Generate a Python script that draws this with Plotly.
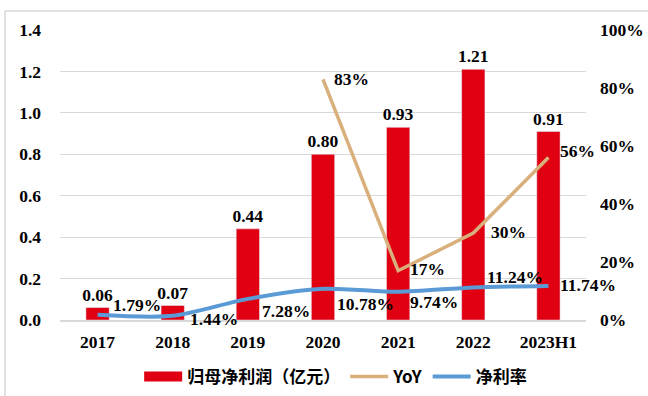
import plotly.graph_objects as go

years = ["2017", "2018", "2019", "2020", "2021", "2022", "2023H1"]
profit = [0.06, 0.07, 0.44, 0.80, 0.93, 1.21, 0.91]
profit_labels = ["0.06", "0.07", "0.44", "0.80", "0.93", "1.21", "0.91"]
yoy_years = ["2020", "2021", "2022", "2023H1"]
yoy = [0.83, 0.17, 0.30, 0.56]
yoy_labels = ["83%", "17%", "30%", "56%"]
margin = [0.0179, 0.0144, 0.0728, 0.1078, 0.0974, 0.1124, 0.1174]
margin_labels = ["1.79%", "1.44%", "7.28%", "10.78%", "9.74%", "11.24%", "11.74%"]
left_ticks = [0, 0.2, 0.4, 0.6, 0.8, 1.0, 1.2, 1.4]
right_ticks = [0, 0.2, 0.4, 0.6, 0.8, 1.0]

RED = "#E00012"
TAN = "#D9B07C"
BLUE = "#5B9BD5"
SERIF = "Liberation Serif, Times New Roman, serif"
CJK = "Noto Sans CJK SC"
FS = 17.5

fig = go.Figure()

fig.add_trace(go.Bar(
    x=years, y=profit, marker_color=RED, width=0.31,
    text=profit_labels, textposition="outside", cliponaxis=False, constraintext="none",
    textfont=dict(family=SERIF, size=FS, color="black"),
    showlegend=False, legendgroup="p", yaxis="y",
))
# legend entry for bars (wide rectangle icon)
fig.add_trace(go.Scatter(
    x=[years[0]], y=[None], mode="lines", line=dict(color=RED, width=12),
    name="归母净利润（亿元）", legendgroup="p", yaxis="y",
))
fig.add_trace(go.Scatter(
    x=yoy_years, y=yoy, mode="lines", line=dict(color=TAN, width=3.5),
    name="YoY", yaxis="y2",
))
fig.add_trace(go.Scatter(
    x=years, y=margin, mode="lines", line=dict(color=BLUE, width=4, shape="spline", smoothing=0.8),
    name="净利率", yaxis="y2",
))

# category serial numbers for annotation positions
margin_off = [(13, 10), (15, -3), (12, -12), (12, -15), (10, -10), (12, 10), (10, 1)]
for x, v, t, (dx, dy) in zip(years, margin, margin_labels, margin_off):
    fig.add_annotation(x=years.index(x), y=v, xref="x", yref="y2", text=t, showarrow=False,
                       xanchor="left", yanchor="middle", xshift=dx, yshift=dy,
                       font=dict(family=SERIF, size=FS, color="black"))
yoy_off = [(9, 0), (10, 2), (16, 1), (10, 7)]
for x, v, t, (dx, dy) in zip(yoy_years, yoy, yoy_labels, yoy_off):
    fig.add_annotation(x=years.index(x), y=v, xref="x", yref="y2", text=t, showarrow=False,
                       xanchor="left", yanchor="middle", xshift=dx, yshift=dy,
                       font=dict(family=SERIF, size=FS, color="black"))

fig.add_shape(type="line", xref="paper", yref="paper",
              x0=(5 - 60) / 526, x1=(648 - 60) / 526, y0=(396 - 11 - 76) / 290, y1=(396 - 11 - 76) / 290,
              line=dict(color="#D9D9D9", width=1.5))
fig.add_shape(type="line", xref="paper", yref="paper",
              x0=(5 - 60) / 526, x1=(5 - 60) / 526, y0=(396 - 11 - 76) / 290, y1=-76 / 290,
              line=dict(color="#D9D9D9", width=1.5))

fig.update_layout(
    width=648, height=396,
    margin=dict(l=60, r=62, t=30, b=76, autoexpand=False),
    paper_bgcolor="white", plot_bgcolor="white",
    bargap=0.69,
    xaxis=dict(type="category", categoryorder="array", categoryarray=years,
               range=[-0.5, len(years) - 0.5],
               tickfont=dict(family=SERIF, size=FS, color="black"),
               showline=True, linecolor="#D9D9D9", linewidth=1.5,
               ticks="", showgrid=False, ticklabelstandoff=5),
    yaxis=dict(range=[0, 1.4], tickvals=left_ticks, tickformat=".1f",
               tickfont=dict(family=SERIF, size=FS, color="black"),
               showgrid=True, gridcolor="#D9D9D9", gridwidth=1,
               zeroline=False, showline=False, ticklabelstandoff=18),
    yaxis2=dict(range=[0, 1.0], tickvals=right_ticks, tickformat=".0%",
                overlaying="y", side="right",
                tickfont=dict(family=SERIF, size=FS, color="black"),
                showgrid=False, zeroline=False, showline=False, ticklabelstandoff=13),
    legend=dict(orientation="h", xref="container", yref="container",
                x=0.518, xanchor="center", y=1 - 377 / 396, yanchor="middle",
                font=dict(family=CJK, size=17, color="black", weight="bold"),
                itemwidth=38, tracegroupgap=0),
    font=dict(family=SERIF, size=FS, color="black", weight="bold"),
)

fig.write_html("out.html")
